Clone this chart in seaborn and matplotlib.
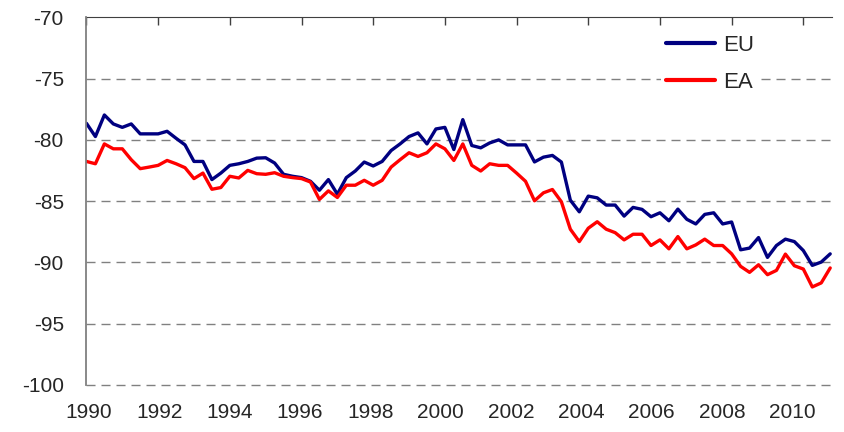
import numpy as np
import pandas as pd
import matplotlib
matplotlib.use("Agg")
import matplotlib.pyplot as plt
import seaborn as sns

# --- dati trimestrali (1990Q1 - 2010Q4) ---
eu = [-78.65, -79.73, -77.97, -78.70, -78.98, -78.70, -79.51, -79.51, -79.51, -79.30,
      -79.87, -80.41, -81.76, -81.76, -83.24, -82.71, -82.08, -81.95, -81.76, -81.49,
      -81.46, -81.89, -82.81, -82.97, -83.08, -83.38, -84.11, -83.24, -84.43, -83.08,
      -82.54, -81.81, -82.13, -81.76, -80.87, -80.33, -79.73, -79.43, -80.33, -79.11,
      -78.98, -80.79, -78.35, -80.46, -80.65, -80.25, -80.00, -80.41, -80.41, -80.41,
      -81.80, -81.41, -81.27, -81.81, -84.92, -85.87, -84.59, -84.73, -85.32, -85.32,
      -86.22, -85.51, -85.67, -86.27, -85.95, -86.60, -85.65, -86.48, -86.86, -86.08,
      -85.95, -86.86, -86.70, -88.97, -88.83, -87.97, -89.59, -88.62, -88.10, -88.30,
      -89.03, -90.24, -89.97, -89.30]
ea = [-81.76, -81.95, -80.33, -80.73, -80.73, -81.62, -82.35, -82.22, -82.08, -81.68,
      -81.95, -82.27, -83.16, -82.71, -84.03, -83.89, -82.97, -83.11, -82.49, -82.76,
      -82.81, -82.68, -82.97, -83.08, -83.16, -83.44, -84.86, -84.16, -84.70, -83.70,
      -83.70, -83.30, -83.70, -83.30, -82.22, -81.62, -81.05, -81.35, -81.05, -80.33,
      -80.73, -81.68, -80.33, -82.08, -82.54, -81.95, -82.08, -82.08, -82.71, -83.38,
      -84.97, -84.32, -84.05, -85.05, -87.29, -88.30, -87.21, -86.68, -87.29, -87.57,
      -88.16, -87.70, -87.70, -88.62, -88.16, -88.89, -87.89, -88.89, -88.57, -88.10,
      -88.62, -88.62, -89.30, -90.32, -90.81, -90.19, -91.00, -90.65, -89.32, -90.27,
      -90.54, -92.00, -91.67, -90.45]
anni = [str(a) for a in range(1990, 2011, 2)]
y_ticks = [-70, -75, -80, -85, -90, -95, -100]

# tabella in formato lungo per seaborn
df = pd.DataFrame({
    "t": list(range(len(eu))) * 2,
    "valore": eu + ea,
    "serie": ["EU"] * len(eu) + ["EA"] * len(ea),
})

sns.set_style("white")
plt.rcParams["font.family"] = ["Liberation Sans", "DejaVu Sans"]
plt.rcParams["axes.unicode_minus"] = False

fig = plt.figure(figsize=(8.44, 4.32), dpi=100)
ax = fig.add_axes([86 / 844, 1 - 385 / 432, (832 - 86) / 844, (385 - 17.3) / 432])

sns.lineplot(data=df, x="t", y="valore", hue="serie", hue_order=["EU", "EA"],
             palette={"EU": "#000080", "EA": "#ff0000"}, linewidth=2.4, ax=ax)

ax.set_xlim(-0.05, 83.2)
ax.set_ylim(-100, -70)
ax.set_xlabel("")
ax.set_ylabel("")

# griglia tratteggiata orizzontale
ax.set_yticks(y_ticks)
ax.set_yticklabels([str(v) for v in y_ticks], fontsize=15)
for v in y_ticks[1:]:
    ax.axhline(v, color="#808080", linewidth=1.0, linestyle=(0, (6.5, 4.3)),
               zorder=0, clip_on=False)
ax.tick_params(axis="y", direction="out", length=6, width=1, color="#808080", pad=10)

# etichette degli anni in basso, senza tacche
ax.set_xticks(np.linspace(0.25, 78.8, len(anni)))
ax.set_xticklabels(anni, fontsize=15)
ax.tick_params(axis="x", length=0, pad=13)

# asse delle categorie in alto (a -70) con tacche verso l'interno
top = ax.secondary_xaxis("top")
top.set_xticks(np.arange(0, 84, 8))
top.set_xticklabels([])
top.tick_params(direction="in", length=6, width=1, color="#404040")
top.spines["top"].set_color("#404040")

for s in ["right", "bottom", "top"]:
    ax.spines[s].set_visible(False)
ax.spines["left"].set_color("#808080")
ax.spines["left"].set_linewidth(1.3)

leg = ax.legend(loc="center", bbox_to_anchor=(710 / 844, 1 - 64 / 432),
                bbox_transform=fig.transFigure, fontsize=16, frameon=True,
                handlelength=2.2, handletextpad=0.4, labelspacing=0.74,
                borderpad=0.2)
leg.get_frame().set_edgecolor("none")
leg.get_frame().set_facecolor("white")
leg.get_frame().set_alpha(1)
for line in leg.get_lines():
    line.set_linewidth(3)

fig.savefig("out.png", dpi=100)
